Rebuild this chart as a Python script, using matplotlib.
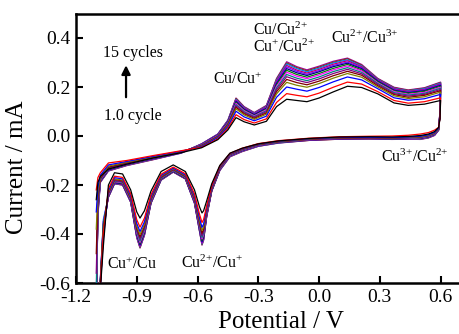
import numpy as np
import matplotlib
matplotlib.use("Agg")
import matplotlib.pyplot as plt

plt.rcParams['font.family'] = ['Liberation Serif', 'DejaVu Serif']
plt.rcParams['mathtext.fontset'] = 'custom'
plt.rcParams['mathtext.rm'] = 'Liberation Serif'
plt.rcParams['mathtext.default'] = 'rm'
plt.rcParams['axes.unicode_minus'] = False

# ---- data (potential in V, current in mA); 15 cycles ----
anodic_potential = [-1.100, -1.092, -1.080, -1.040, -0.950, -0.820, -0.680, -0.580,
                    -0.500, -0.450, -0.410, -0.370, -0.320, -0.260, -0.210, -0.160,
                    -0.110, -0.060, 0.000, 0.070, 0.140, 0.210, 0.290, 0.370,
                    0.440, 0.520, 0.600]

# each row: current of cycles 1..15 at one anodic potential
anodic_current = [
    [-0.26, -0.22, -0.31, -0.38, -0.48, -0.56, -0.62, -0.66, -0.70, -0.70, -0.70, -0.70, -0.70, -0.70, -0.70],
    [-0.19, -0.17, -0.21, -0.23, -0.25, -0.27, -0.28, -0.29, -0.30, -0.30, -0.31, -0.31, -0.32, -0.32, -0.33],
    [-0.165, -0.150, -0.160, -0.168, -0.172, -0.176, -0.178, -0.180, -0.182, -0.184, -0.185, -0.186, -0.187, -0.188, -0.190],
    [-0.135, -0.110, -0.118, -0.123, -0.127, -0.130, -0.132, -0.134, -0.136, -0.138, -0.139, -0.140, -0.141, -0.142, -0.143],
    [-0.115, -0.100, -0.104, -0.107, -0.109, -0.111, -0.113, -0.114, -0.115, -0.116, -0.117, -0.118, -0.119, -0.120, -0.121],
    [-0.090, -0.080, -0.083, -0.085, -0.087, -0.088, -0.089, -0.090, -0.091, -0.092, -0.093, -0.094, -0.095, -0.096, -0.097],
    [-0.068, -0.060, -0.062, -0.063, -0.064, -0.065, -0.066, -0.066, -0.067, -0.067, -0.068, -0.068, -0.069, -0.069, -0.070],
    [-0.048, -0.046, -0.043, -0.041, -0.040, -0.038, -0.037, -0.036, -0.036, -0.035, -0.034, -0.034, -0.033, -0.032, -0.032],
    [-0.015, -0.012, -0.007, -0.005, -0.003, -0.001, 0.000, 0.002, 0.003, 0.004, 0.005, 0.006, 0.007, 0.007, 0.008],
    [0.025, 0.031, 0.038, 0.043, 0.046, 0.049, 0.051, 0.054, 0.056, 0.058, 0.059, 0.061, 0.063, 0.064, 0.065],
    [0.075, 0.087, 0.101, 0.111, 0.117, 0.123, 0.128, 0.133, 0.137, 0.141, 0.144, 0.147, 0.150, 0.153, 0.155],
    [0.058, 0.067, 0.078, 0.086, 0.091, 0.095, 0.099, 0.103, 0.106, 0.109, 0.111, 0.114, 0.116, 0.118, 0.120],
    [0.045, 0.053, 0.062, 0.068, 0.072, 0.076, 0.079, 0.082, 0.084, 0.087, 0.089, 0.091, 0.093, 0.094, 0.096],
    [0.060, 0.070, 0.081, 0.089, 0.094, 0.099, 0.103, 0.107, 0.110, 0.113, 0.116, 0.119, 0.121, 0.123, 0.125],
    [0.120, 0.137, 0.158, 0.172, 0.181, 0.189, 0.196, 0.203, 0.209, 0.214, 0.219, 0.224, 0.228, 0.232, 0.235],
    [0.150, 0.173, 0.200, 0.219, 0.231, 0.242, 0.251, 0.260, 0.268, 0.275, 0.282, 0.288, 0.294, 0.298, 0.303],
    [0.145, 0.166, 0.191, 0.207, 0.218, 0.228, 0.236, 0.244, 0.251, 0.258, 0.264, 0.269, 0.275, 0.279, 0.283],
    [0.140, 0.160, 0.183, 0.199, 0.209, 0.218, 0.226, 0.234, 0.240, 0.247, 0.252, 0.257, 0.262, 0.266, 0.270],
    [0.155, 0.175, 0.198, 0.214, 0.224, 0.233, 0.241, 0.249, 0.255, 0.262, 0.267, 0.272, 0.277, 0.281, 0.285],
    [0.180, 0.199, 0.221, 0.236, 0.246, 0.255, 0.263, 0.270, 0.276, 0.283, 0.288, 0.293, 0.298, 0.301, 0.305],
    [0.203, 0.220, 0.241, 0.255, 0.264, 0.272, 0.279, 0.286, 0.292, 0.297, 0.302, 0.307, 0.311, 0.315, 0.318],
    [0.198, 0.212, 0.229, 0.240, 0.248, 0.254, 0.260, 0.266, 0.270, 0.275, 0.279, 0.283, 0.286, 0.289, 0.292],
    [0.172, 0.181, 0.193, 0.200, 0.205, 0.210, 0.214, 0.217, 0.221, 0.224, 0.226, 0.229, 0.231, 0.233, 0.235],
    [0.135, 0.145, 0.156, 0.164, 0.169, 0.173, 0.177, 0.181, 0.184, 0.187, 0.190, 0.193, 0.195, 0.197, 0.199],
    [0.125, 0.134, 0.146, 0.153, 0.158, 0.163, 0.167, 0.170, 0.174, 0.177, 0.179, 0.182, 0.184, 0.186, 0.188],
    [0.130, 0.140, 0.152, 0.160, 0.166, 0.170, 0.174, 0.178, 0.182, 0.185, 0.188, 0.190, 0.193, 0.195, 0.197],
    [0.145, 0.156, 0.170, 0.179, 0.185, 0.190, 0.195, 0.199, 0.203, 0.207, 0.210, 0.213, 0.216, 0.218, 0.220],
]

cathodic_potential = [0.597, 0.590, 0.570, 0.540, 0.500, 0.440, 0.360, 0.250, 0.100,
                      -0.050, -0.200, -0.300, -0.380, -0.440, -0.490, -0.530, -0.555,
                      -0.570, -0.578, -0.590, -0.615, -0.660, -0.720, -0.780, -0.830,
                      -0.862, -0.884, -0.900, -0.930, -0.970, -1.010, -1.040, -1.065,
                      -1.090]

cathodic_current = [
    [0.070, 0.075, 0.080, 0.080, 0.085, 0.085, 0.090, 0.090, 0.090, 0.095, 0.095, 0.100, 0.100, 0.100, 0.105],
    [0.035, 0.035, 0.032, 0.030, 0.030, 0.028, 0.028, 0.027, 0.026, 0.026, 0.025, 0.025, 0.024, 0.024, 0.023],
    [0.018, 0.024, 0.015, 0.013, 0.012, 0.011, 0.010, 0.009, 0.008, 0.007, 0.006, 0.005, 0.004, 0.003, 0.002],
    [0.008, 0.014, 0.005, 0.003, 0.002, 0.001, 0.000, -0.001, -0.002, -0.003, -0.004, -0.005, -0.006, -0.007, -0.008],
    [0.002, 0.008, -0.001, -0.003, -0.004, -0.005, -0.006, -0.007, -0.008, -0.009, -0.010, -0.011, -0.012, -0.013, -0.014],
    [-0.002, 0.003, -0.004, -0.005, -0.006, -0.007, -0.008, -0.009, -0.010, -0.010, -0.011, -0.012, -0.012, -0.013, -0.013],
    [-0.004, 0.000, -0.006, -0.007, -0.008, -0.009, -0.010, -0.010, -0.011, -0.011, -0.012, -0.012, -0.013, -0.013, -0.014],
    [-0.003, -0.001, -0.005, -0.006, -0.007, -0.008, -0.008, -0.009, -0.009, -0.010, -0.010, -0.011, -0.011, -0.012, -0.012],
    [-0.004, -0.003, -0.006, -0.007, -0.008, -0.009, -0.009, -0.010, -0.010, -0.011, -0.011, -0.012, -0.012, -0.013, -0.013],
    [-0.010, -0.009, -0.011, -0.012, -0.013, -0.014, -0.014, -0.015, -0.015, -0.016, -0.016, -0.017, -0.017, -0.018, -0.018],
    [-0.020, -0.019, -0.021, -0.022, -0.023, -0.024, -0.025, -0.025, -0.026, -0.026, -0.027, -0.027, -0.028, -0.028, -0.029],
    [-0.032, -0.031, -0.033, -0.034, -0.035, -0.036, -0.037, -0.038, -0.038, -0.039, -0.040, -0.040, -0.041, -0.042, -0.042],
    [-0.050, -0.050, -0.052, -0.053, -0.054, -0.055, -0.056, -0.057, -0.058, -0.059, -0.060, -0.061, -0.062, -0.063, -0.064],
    [-0.070, -0.071, -0.073, -0.074, -0.075, -0.076, -0.077, -0.078, -0.079, -0.080, -0.081, -0.082, -0.083, -0.084, -0.085],
    [-0.120, -0.122, -0.125, -0.127, -0.129, -0.131, -0.133, -0.134, -0.135, -0.136, -0.137, -0.138, -0.139, -0.140, -0.141],
    [-0.195, -0.204, -0.209, -0.212, -0.214, -0.216, -0.218, -0.219, -0.221, -0.222, -0.223, -0.224, -0.224, -0.225, -0.225],
    [-0.265, -0.285, -0.294, -0.301, -0.306, -0.311, -0.314, -0.318, -0.320, -0.323, -0.325, -0.327, -0.328, -0.329, -0.330],
    [-0.305, -0.341, -0.359, -0.371, -0.381, -0.389, -0.396, -0.402, -0.407, -0.412, -0.415, -0.419, -0.421, -0.424, -0.425],
    [-0.314, -0.353, -0.373, -0.386, -0.397, -0.406, -0.414, -0.420, -0.425, -0.431, -0.435, -0.438, -0.441, -0.444, -0.445],
    [-0.290, -0.320, -0.335, -0.345, -0.353, -0.360, -0.366, -0.371, -0.375, -0.379, -0.382, -0.385, -0.387, -0.389, -0.390],
    [-0.220, -0.237, -0.245, -0.250, -0.255, -0.259, -0.262, -0.265, -0.267, -0.269, -0.271, -0.272, -0.273, -0.274, -0.275],
    [-0.145, -0.154, -0.159, -0.162, -0.164, -0.166, -0.168, -0.169, -0.171, -0.172, -0.173, -0.174, -0.174, -0.175, -0.175],
    [-0.118, -0.127, -0.131, -0.134, -0.136, -0.138, -0.140, -0.141, -0.143, -0.144, -0.145, -0.146, -0.146, -0.147, -0.147],
    [-0.145, -0.156, -0.161, -0.164, -0.167, -0.170, -0.172, -0.173, -0.175, -0.176, -0.177, -0.178, -0.179, -0.180, -0.180],
    [-0.225, -0.240, -0.248, -0.253, -0.257, -0.260, -0.263, -0.266, -0.268, -0.270, -0.271, -0.273, -0.274, -0.275, -0.275],
    [-0.305, -0.335, -0.350, -0.360, -0.368, -0.375, -0.381, -0.386, -0.390, -0.394, -0.397, -0.400, -0.402, -0.404, -0.405],
    [-0.335, -0.372, -0.390, -0.402, -0.412, -0.420, -0.428, -0.434, -0.439, -0.444, -0.447, -0.451, -0.453, -0.456, -0.457],
    [-0.310, -0.342, -0.357, -0.368, -0.376, -0.384, -0.390, -0.395, -0.399, -0.403, -0.407, -0.410, -0.412, -0.414, -0.415],
    [-0.220, -0.235, -0.243, -0.248, -0.252, -0.255, -0.258, -0.261, -0.263, -0.265, -0.266, -0.268, -0.269, -0.270, -0.270],
    [-0.155, -0.169, -0.175, -0.180, -0.183, -0.187, -0.189, -0.191, -0.193, -0.195, -0.196, -0.198, -0.199, -0.200, -0.200],
    [-0.150, -0.164, -0.170, -0.175, -0.178, -0.182, -0.184, -0.186, -0.188, -0.190, -0.191, -0.193, -0.194, -0.195, -0.195],
    [-0.200, -0.215, -0.223, -0.228, -0.232, -0.235, -0.238, -0.241, -0.243, -0.245, -0.246, -0.248, -0.249, -0.250, -0.250],
    [-0.45, -0.40, -0.42, -0.40, -0.38, -0.40, -0.37, -0.39, -0.36, -0.38, -0.35, -0.37, -0.34, -0.36, -0.35],
    [-0.75, -0.75, -0.75, -0.75, -0.75, -0.75, -0.75, -0.75, -0.75, -0.75, -0.75, -0.75, -0.75, -0.75, -0.75],
]

cycle_colors = ['#000000', '#ff0000', '#0000ff', '#808000', '#800000', '#800080',
                '#008080', '#ff00ff', '#008000', '#000080', '#8000ff', '#c00060',
                '#0080ff', '#804000', '#a000a0']

x_ticks = [-1.2, -0.9, -0.6, -0.3, 0.0, 0.3, 0.6]
y_ticks = [-0.6, -0.4, -0.2, 0.0, 0.2, 0.4]

# ---- figure ----
fig = plt.figure(figsize=(4.6, 3.34), dpi=100)
ax_w = 395
ax = fig.add_axes([76 / 460, 51 / 334, ax_w / 460, 269.5 / 334])

ia = np.array(anodic_current).T
ic = np.array(cathodic_current).T
for k in range(len(cycle_colors)):
    e = list(anodic_potential) + list(cathodic_potential)
    i = list(ia[k]) + list(ic[k])
    ax.plot(e, i, color=cycle_colors[k], lw=0.9, zorder=3 + (15 - k) * 0.01)

ax.set_xlim(-1.2, 0.75)
ax.set_ylim(-0.6, 0.5)
ax.set_xticks(x_ticks)
ax.set_xticklabels([f"{v:.1f}" for v in x_ticks])
ax.set_yticks(y_ticks)
ax.set_yticklabels([f"{v:.1f}" for v in y_ticks])
ax.tick_params(direction='in', length=5, width=1.5, labelsize=14, pad=4,
               top=False, right=False)
for s in ax.spines.values():
    s.set_linewidth(1.8)

ax.set_xlabel('Potential / V', fontsize=18)
ax.xaxis.set_label_coords((281 - 76) / ax_w, (283 - 311) / 269.5)
ax.set_ylabel('Current / mA', fontsize=18)
ax.yaxis.set_label_coords((28 - 76) / ax_w, (283 - 167) / 269.5)

fs = 11.5
ax.text(-0.919, 0.339, '15 cycles', fontsize=fs, ha='center', va='center')
ax.text(-0.919, 0.082, '1.0 cycle', fontsize=fs, ha='center', va='center')
ax.annotate('', xy=(-0.953, 0.300), xytext=(-0.953, 0.147),
            arrowprops=dict(arrowstyle='-|>', color='k', lw=1.6, mutation_scale=13))
ax.text(-0.40, 0.229, 'Cu/Cu$^{+}$', fontsize=fs, ha='center', va='center')
ax.text(-0.19, 0.430, 'Cu/Cu$^{2{+}}$', fontsize=fs, ha='center', va='center')
ax.text(-0.175, 0.360, 'Cu$^{+}$/Cu$^{2{+}}$', fontsize=fs, ha='center', va='center')
ax.text(0.225, 0.400, 'Cu$^{2{+}}$/Cu$^{3{+}}$', fontsize=fs, ha='center', va='center')
ax.text(0.473, -0.087, 'Cu$^{3{+}}$/Cu$^{2{+}}$', fontsize=fs, ha='center', va='center')
ax.text(-0.924, -0.525, 'Cu$^{+}$/Cu', fontsize=fs, ha='center', va='center')
ax.text(-0.529, -0.520, 'Cu$^{2{+}}$/Cu$^{+}$', fontsize=fs, ha='center', va='center')

fig.savefig('out.png', dpi=100)
